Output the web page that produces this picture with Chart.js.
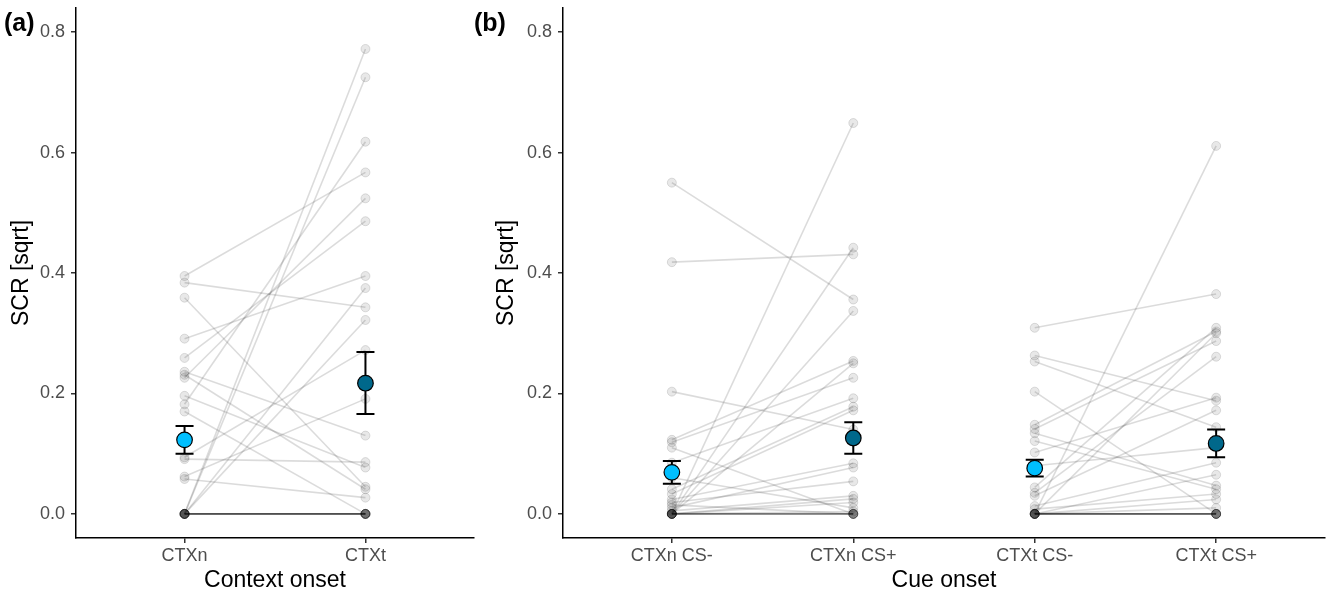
<!DOCTYPE html>
<html>
<head>
<meta charset="utf-8">
<script src="https://cdn.jsdelivr.net/npm/chart.js@4.4.1/dist/chart.umd.min.js"></script>
<style>
  body { margin: 0; background: #fff; width: 1328px; height: 596px; overflow: hidden; position: relative;
         font-family: "Liberation Sans", Arial, sans-serif; }
  .panel { position: absolute; top: 0; }
  .tag { position: absolute; top: 10px; font-weight: bold; font-size: 25px; line-height: 1; color: #000; }
</style>
</head>
<body>
<canvas id="chartA" class="panel" style="left:0" width="478" height="596"></canvas>
<canvas id="chartB" class="panel" style="left:478px" width="850" height="596"></canvas>
<div class="tag" style="left:4px">(a)</div>
<div class="tag" style="left:474px">(b)</div>
<script>
// tick labels
const yTicks = [0, 0.2, 0.4, 0.6, 0.8];
const labelsA = ['CTXn', 'CTXt'];
const labelsB = ['CTXn CS-', 'CTXn CS+', 'CTXt CS-', 'CTXt CS+'];

// (a) context onset, one value per participant
const ctxn = [0.395, 0.384, 0.359, 0.291, 0.259, 0.236, 0.231, 0.226, 0.196, 0.182, 0.170, 0.094, 0.091, 0.062, 0.058,
              0, 0, 0, 0, 0, 0, 0, 0, 0, 0, 0, 0];
const ctxt = [0.567, 0.343, 0.045, 0.395, 0.486, 0.130, 0.041, 0.524, 0.077, 0.618, 0, 0.272, 0.086, 0.191, 0.027,
              0.772, 0.725, 0.375, 0.322, 0, 0, 0, 0, 0, 0, 0, 0];
const meanA = [0.123, 0.217];
const loA = [0.100, 0.166];
const hiA = [0.146, 0.269];

// (b) cue onset
const ctxnMinus = [0.550, 0.418, 0.203, 0.123, 0.119, 0.110, 0.085, 0.060, 0.041, 0.033, 0.024, 0.019, 0.015, 0.010, 0.005,
                   0, 0, 0, 0, 0, 0, 0, 0, 0, 0, 0, 0];
const ctxnPlus  = [0.356, 0.431, 0.140, 0.254, 0.226, 0, 0.192, 0.010, 0.178, 0.172, 0.084, 0.054, 0, 0.077, 0.030,
                   0.649, 0.442, 0.337, 0.250, 0.025, 0.019, 0.004, 0, 0, 0, 0, 0];
const ctxtMinus = [0.309, 0.263, 0.253, 0.203, 0.148, 0.141, 0.134, 0.121, 0.102, 0.080, 0.044, 0.035, 0.030, 0.013, 0.008,
                   0, 0, 0, 0, 0, 0, 0, 0, 0, 0, 0, 0];
const ctxtPlus  = [0.365, 0.188, 0.144, 0, 0.303, 0.287, 0.047, 0.041, 0.193, 0.110, 0.309, 0.261, 0.172, 0.085, 0.033,
                   0.611, 0.300, 0.065, 0.024, 0.010, 0, 0, 0, 0, 0, 0, 0];
const meanB = [0.069, 0.126, 0.076, 0.117];
const loB = [0.050, 0.100, 0.062, 0.094];
const hiB = [0.088, 0.152, 0.090, 0.140];

const lightBlue = '#00BFFF';
const darkBlue = '#00688B';

// error bars drawn just under the mean points
const errorBars = {
  id: 'errorBars',
  beforeDatasetDraw(chart, args) {
    const ds = chart.data.datasets[args.index];
    if (!ds.errLo) return;
    const ctx = chart.ctx, xs = chart.scales.x, ys = chart.scales.y;
    ctx.save();
    ctx.strokeStyle = '#000';
    ctx.lineWidth = 2;
    ds.data.forEach((p, i) => {
      const x = xs.getPixelForValue(p.x);
      const top = ys.getPixelForValue(ds.errHi[i]);
      const bot = ys.getPixelForValue(ds.errLo[i]);
      ctx.beginPath();
      ctx.moveTo(x, top); ctx.lineTo(x, bot);
      ctx.moveTo(x - 9, top); ctx.lineTo(x + 9, top);
      ctx.moveTo(x - 9, bot); ctx.lineTo(x + 9, bot);
      ctx.stroke();
    });
    ctx.restore();
  }
};

function pairs(a, b, xa, xb) {
  return a.map((v, i) => ({
    data: [{ x: xa, y: v }, { x: xb, y: b[i] }],
    showLine: true,
    borderColor: 'rgba(0,0,0,0.14)',
    borderWidth: 1.6,
    pointRadius: 4.5,
    pointBackgroundColor: 'rgba(0,0,0,0.09)',
    pointBorderColor: 'rgba(0,0,0,0.12)',
    pointBorderWidth: 1,
    order: 2
  }));
}

function means(m, lo, hi, colors) {
  return {
    data: m.map((v, i) => ({ x: i + 1, y: v })),
    errLo: lo,
    errHi: hi,
    showLine: false,
    pointRadius: 7.8,
    pointBackgroundColor: colors,
    pointBorderColor: '#000',
    pointBorderWidth: 1.2,
    order: 0
  };
}

function axisStyle() {
  return {
    grid: { display: true, drawOnChartArea: false, drawTicks: true, tickLength: 5, color: '#333', lineWidth: 1.5 },
    border: { display: true, color: '#000', width: 1.5 }
  };
}

function makeScales(labels, xTitle, yWidth, yTitlePad) {
  return {
    x: Object.assign({
      type: 'linear',
      min: 0.4,
      max: labels.length + 0.6,
      afterBuildTicks: s => { s.ticks = labels.map((l, i) => ({ value: i + 1 })); },
      afterFit: s => { s.height = 58; s.paddingLeft = 0; s.paddingRight = 0; },
      ticks: { callback: (v, i) => labels[i], color: '#4D4D4D', font: { size: 18 }, padding: 2, maxRotation: 0, autoSkip: false },
      title: { display: true, text: xTitle, color: '#000', font: { size: 23 }, padding: { top: 0, bottom: 2 } }
    }, axisStyle()),
    y: Object.assign({
      type: 'linear',
      min: -0.04,
      max: 0.84,
      afterBuildTicks: s => { s.ticks = yTicks.map(v => ({ value: v })); },
      afterFit: s => { s.width = yWidth; s.paddingTop = 0; s.paddingBottom = 0; },
      ticks: { callback: v => v.toFixed(1), color: '#4D4D4D', font: { size: 18 }, padding: 6 },
      title: { display: true, text: 'SCR [sqrt]', color: '#000', font: { size: 23 }, padding: { top: yTitlePad, bottom: 0 } }
    }, axisStyle())
  };
}

Chart.defaults.font.family = '"Liberation Sans", Arial, sans-serif';

new Chart(document.getElementById('chartA'), {
  type: 'scatter',
  data: {
    datasets: [means(meanA, loA, hiA, [lightBlue, darkBlue])].concat(pairs(ctxn, ctxt, 1, 2))
  },
  options: {
    responsive: false,
    animation: false,
    events: [],
    layout: { autoPadding: false, padding: { top: 8, right: 4, bottom: 0, left: 0 } },
    plugins: { legend: { display: false }, tooltip: { enabled: false } },
    scales: makeScales(labelsA, 'Context onset', 76, 8)
  },
  plugins: [errorBars]
});

new Chart(document.getElementById('chartB'), {
  type: 'scatter',
  data: {
    datasets: [means(meanB, loB, hiB, [lightBlue, darkBlue, lightBlue, darkBlue])]
      .concat(pairs(ctxnMinus, ctxnPlus, 1, 2))
      .concat(pairs(ctxtMinus, ctxtPlus, 3, 4))
  },
  options: {
    responsive: false,
    animation: false,
    events: [],
    layout: { autoPadding: false, padding: { top: 8, right: 3, bottom: 0, left: 0 } },
    plugins: { legend: { display: false }, tooltip: { enabled: false } },
    scales: makeScales(labelsB, 'Cue onset', 85, 15)
  },
  plugins: [errorBars]
});
</script>
</body>
</html>
